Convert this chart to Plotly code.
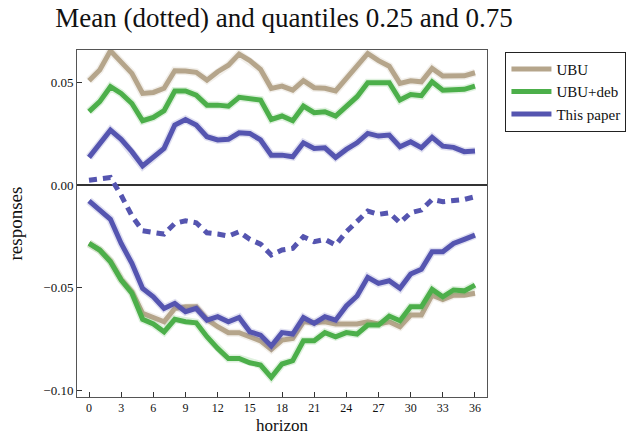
import plotly.graph_objects as go

horizon = list(range(37))

ubu_q75 = [0.0509, 0.0561, 0.0655, 0.0602, 0.0545, 0.0447, 0.0452, 0.0472, 0.0558, 0.0556,
           0.0550, 0.0512, 0.0553, 0.0585, 0.0639, 0.0607, 0.0564, 0.0472, 0.0483, 0.0463,
           0.0509, 0.0475, 0.0472, 0.0459, 0.0520, 0.0580, 0.0642, 0.0607, 0.0580, 0.0496,
           0.0509, 0.0504, 0.0569, 0.0532, 0.0532, 0.0533, 0.0548]
ubu_q25 = [-0.0285, -0.0317, -0.0370, -0.0460, -0.0520, -0.0626, -0.0646, -0.0667, -0.0602, -0.0594,
           -0.0594, -0.0655, -0.0691, -0.0720, -0.0720, -0.0740, -0.0760, -0.0802, -0.0756, -0.0748,
           -0.0667, -0.0672, -0.0667, -0.0678, -0.0678, -0.0678, -0.0667, -0.0678, -0.0667, -0.0691,
           -0.0634, -0.0634, -0.0537, -0.0558, -0.0537, -0.0537, -0.0528]

deb_q75 = [0.0358, 0.0407, 0.0480, 0.0447, 0.0398, 0.0314, 0.0330, 0.0363, 0.0459, 0.0459,
           0.0439, 0.0390, 0.0390, 0.0385, 0.0428, 0.0423, 0.0415, 0.0320, 0.0337, 0.0314,
           0.0385, 0.0353, 0.0358, 0.0337, 0.0382, 0.0431, 0.0499, 0.0499, 0.0499, 0.0415,
           0.0442, 0.0436, 0.0504, 0.0463, 0.0463, 0.0467, 0.0483]
deb_q25 = [-0.0285, -0.0317, -0.0374, -0.0463, -0.0528, -0.0655, -0.0678, -0.0716, -0.0655, -0.0667,
           -0.0672, -0.0740, -0.0797, -0.0846, -0.0846, -0.0867, -0.0878, -0.0938, -0.0873, -0.0857,
           -0.0760, -0.0760, -0.0720, -0.0740, -0.0720, -0.0727, -0.0683, -0.0683, -0.0639, -0.0662,
           -0.0594, -0.0594, -0.0509, -0.0545, -0.0512, -0.0516, -0.0488]

paper_q75 = [0.0135, 0.0203, 0.0268, 0.0223, 0.0163, 0.0093, 0.0135, 0.0179, 0.0293, 0.0320,
             0.0293, 0.0236, 0.0220, 0.0223, 0.0255, 0.0252, 0.0220, 0.0146, 0.0146, 0.0138,
             0.0206, 0.0179, 0.0182, 0.0135, 0.0174, 0.0206, 0.0252, 0.0239, 0.0244, 0.0187,
             0.0211, 0.0182, 0.0233, 0.0190, 0.0184, 0.0163, 0.0166]
paper_q25 = [-0.0077, -0.0119, -0.0167, -0.0285, -0.0382, -0.0504, -0.0545, -0.0602, -0.0577, -0.0618,
             -0.0602, -0.0659, -0.0642, -0.0667, -0.0646, -0.0716, -0.0732, -0.0785, -0.0720, -0.0727,
             -0.0646, -0.0675, -0.0642, -0.0659, -0.0590, -0.0541, -0.0450, -0.0480, -0.0467, -0.0504,
             -0.0434, -0.0411, -0.0325, -0.0325, -0.0285, -0.0265, -0.0244]
paper_mean = [0.0024, 0.0033, 0.0037, -0.0050, -0.0150, -0.0223, -0.0233, -0.0239, -0.0187, -0.0174,
              -0.0184, -0.0233, -0.0239, -0.0249, -0.0228, -0.0265, -0.0288, -0.0341, -0.0317, -0.0309,
              -0.0252, -0.0276, -0.0265, -0.0293, -0.0228, -0.0179, -0.0127, -0.0143, -0.0135, -0.0184,
              -0.0135, -0.0122, -0.0070, -0.0081, -0.0077, -0.0070, -0.0057]

x_ticks = list(range(0, 37, 3))
y_ticks = [-0.10, -0.05, 0.0, 0.05]
y_ticktext = ["\u22120.10", "\u22120.05", "0.00", "0.05"]

series = [
    ("UBU", "#B5A58B", "rgba(181,165,139,0.18)", ubu_q75, ubu_q25, None),
    ("UBU+deb", "#4CAF4A", "rgba(76,175,74,0.18)", deb_q75, deb_q25, None),
    ("This paper", "#5555B0", "rgba(85,85,176,0.18)", paper_q75, paper_q25, paper_mean),
]

fig = go.Figure()
for name, col, halo, q75, q25, mean in series:
    for q in (q75, q25):
        fig.add_trace(go.Scatter(x=horizon, y=q, mode="lines", line=dict(color=halo, width=8),
                                 showlegend=False, hoverinfo="skip"))
    fig.add_trace(go.Scatter(x=horizon, y=q75, mode="lines", name=name, legendgroup=name,
                             line=dict(color=col, width=5)))
    fig.add_trace(go.Scatter(x=horizon, y=q25, mode="lines", name=name, legendgroup=name,
                             showlegend=False, line=dict(color=col, width=5)))
    if mean is not None:
        fig.add_trace(go.Scatter(x=horizon, y=mean, mode="lines", name=name, legendgroup=name,
                                 showlegend=False, line=dict(color=col, width=5, dash="8px,6px")))

fig.add_hline(y=0, line=dict(color="#333333", width=2), layer="below")

font_family = "Liberation Serif"
plot_h = 435 - 50 - 38
plot_w = 640 - 77 - 153
fig.update_layout(
    width=640, height=435,
    margin=dict(l=77, r=153, t=50, b=38, autoexpand=False),
    paper_bgcolor="white", plot_bgcolor="white",
    font=dict(family=font_family, color="#111111", size=13),
    title=dict(text="Mean (dotted) and quantiles 0.25 and 0.75",
               x=(284 - 77) / plot_w, xref="paper", xanchor="center",
               y=1 - 18 / 435, yref="container", yanchor="middle",
               font=dict(size=27, family=font_family, color="#111111")),
    legend=dict(x=1.045, y=0.995, xanchor="left", yanchor="top", bordercolor="#222222",
                borderwidth=1, font=dict(size=15, family=font_family, color="#111111"),
                tracegroupgap=0, itemwidth=40),
    showlegend=True,
    annotations=[
        dict(text="horizon", x=0.5, y=-(426 - 397) / plot_h, xref="paper", yref="paper",
             xanchor="center", yanchor="middle", showarrow=False,
             font=dict(size=17, family=font_family, color="#111111")),
        dict(text="responses", x=-(77 - 15) / plot_w, y=0.5, xref="paper", yref="paper",
             xanchor="center", yanchor="middle", showarrow=False, textangle=-90,
             font=dict(size=19, family=font_family, color="#111111")),
    ],
)

fig.update_xaxes(range=[-1.12, 37.12], tickmode="array", tickvals=x_ticks,
                 ticks="inside", ticklen=5, tickcolor="#333333", showline=True, linecolor="#555555",
                 linewidth=1, mirror=True, showgrid=False, zeroline=False, automargin=False,
                 tickfont=dict(size=12, color="#111111"))
fig.update_yaxes(range=[-0.1034, 0.0659], tickmode="array", tickvals=y_ticks, ticktext=y_ticktext,
                 ticks="inside", ticklen=5, tickcolor="#333333", showline=True,
                 linecolor="#555555", linewidth=1, mirror=True, showgrid=False, zeroline=False,
                 automargin=False, tickfont=dict(size=13, color="#111111"))

fig.write_html("out.html")
